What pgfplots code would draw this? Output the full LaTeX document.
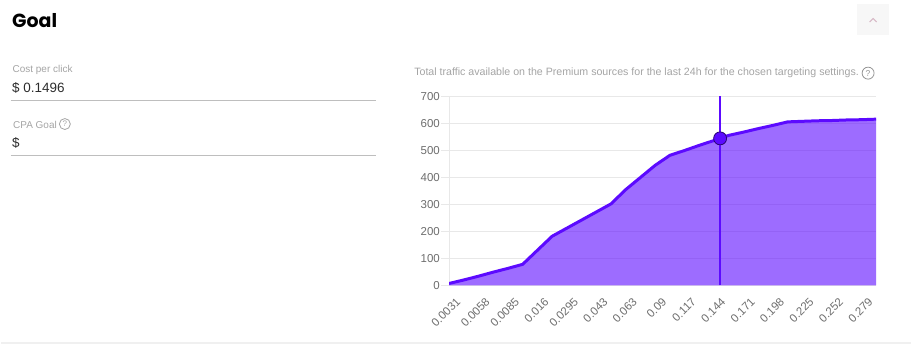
\documentclass[border=0pt]{standalone}
\usepackage{pgfplots}
\usepackage{pgfplotstable}
\pgfplotsset{compat=1.18}
\usepackage{fontspec}
\setmainfont{Liberation Sans}
\newfontfamily\titlefont{Poppins}
\definecolor{vio}{RGB}{92,10,255}
\definecolor{gridc}{RGB}{232,232,232}
\definecolor{labc}{RGB}{110,110,110}
\definecolor{subc}{RGB}{165,165,165}
\definecolor{inkc}{RGB}{45,45,45}
\definecolor{linec}{RGB}{190,190,190}
\definecolor{chev}{RGB}{215,185,198}

\pgfplotstableread{
i v
0 7
1 20
2 34
3 49
4 63
5 78
6 130
7 182
8 212
9 242
10 272
11 302
12 355
13 400
14 445
15 482
16 500
17 519
18 537
19 556
20 568
21 581
22 593
23 606
24 608
25 610
26 611
27 613
28 614
29 616
}\traffic

\begin{document}
\begin{tikzpicture}
\fill[white] (0pt,0pt) rectangle (912pt,346pt);
% header
\node[anchor=base west, inner sep=0, text=black] at (11pt,318.7pt) {\titlefont\bfseries\fontsize{19}{19}\selectfont Goal};
\fill[black!3] (858pt,342pt) rectangle (890pt,311pt);
\draw[chev, line width=1pt] (870.5pt,324pt) -- (874pt,327.5pt) -- (877.5pt,324pt);
% left form
\node[anchor=base west, inner sep=0, text=subc] at (11.5pt,273.7pt) {\fontsize{10}{12}\selectfont Cost per click};
\node[anchor=base west, inner sep=0, text=inkc] at (11pt,253.7pt) {\fontsize{13.5}{15}\selectfont \$ 0.1496};
\draw[linec, line width=1pt] (10pt,245.7pt) -- (376pt,245.7pt);
\node[anchor=base west, inner sep=0, text=subc] at (12pt,217.7pt) {\fontsize{10}{12}\selectfont CPA Goal};
\draw[subc, line width=0.8pt] (64pt,221.7pt) circle (5.5pt);
\node[text=subc, inner sep=0] at (64pt,221.7pt) {\fontsize{8}{8}\selectfont ?};
\node[anchor=base west, inner sep=0, text=inkc] at (11pt,198.3pt) {\fontsize{13.5}{15}\selectfont \$};
\draw[linec, line width=1pt] (10pt,190.3pt) -- (376pt,190.3pt);
% chart subtitle
\node[anchor=base west, inner sep=0, text=subc] at (414pt,270pt) {\fontsize{10.65}{12}\selectfont Total traffic available on the Premium sources for the last 24h for the chosen targeting settings.};
\draw[subc!90!black, line width=0.8pt] (869pt,272.7pt) circle (6pt);
\node[text=subc!90!black, inner sep=0] at (869pt,272.7pt) {\fontsize{8.5}{8.5}\selectfont ?};
% bottom rule
\draw[black!6, line width=2pt] (0pt,2.5pt) -- (912pt,2.5pt);

\begin{axis}[
  at={(449pt,60pt)}, anchor=south west,
  scale only axis, width=428pt, height=189.3pt,
  xmin=0, xmax=29, ymin=0, ymax=700,
  axis lines=left,
  axis line style={-},
  x axis line style={draw=none},
  y axis line style={draw=gridc, line width=1pt},
  ytick={0,100,...,700},
  ymajorgrids,
  grid style={gridc, line width=1pt},
  tick align=outside,
  major tick length=8pt,
  ytick style={gridc, line width=1pt},
  xtick={0,2,...,28},
  xticklabels={0.0031,0.0058,0.0085,0.016,0.0295,0.043,0.063,0.09,0.117,0.144,0.171,0.198,0.225,0.252,0.279},
  xtick style={draw=none},
  tick label style={text=labc},
  yticklabel style={font=\fontsize{11.5}{12}\selectfont, inner sep=1pt},
  xticklabel style={font=\fontsize{11.5}{12}\selectfont, rotate=45, anchor=north east, inner sep=1pt, yshift=-6pt, xshift=3pt},
  /pgf/number format/assume math mode=true,
]
\addplot[draw=none, fill=vio, fill opacity=0.6] table[x=i, y=v] {\traffic} \closedcycle;
\addplot[vio, line width=3pt, line join=round] table[x=i, y=v] {\traffic};
\addplot[vio, line width=2pt] coordinates {(18.41,0) (18.41,700)};
\addplot[only marks, mark=*, mark size=6.5pt, mark options={fill=vio, draw=black!55!vio, line width=0.8pt}] coordinates {(18.41,544.8)};
\end{axis}
\end{tikzpicture}
\end{document}
